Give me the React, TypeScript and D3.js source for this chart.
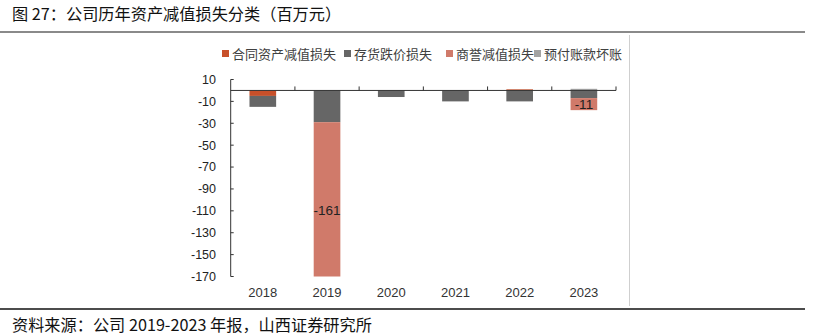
import React from "react";
import * as d3 from "d3";

const years = ["2018", "2019", "2020", "2021", "2022", "2023"];
const contractAsset = [-5, 0, 0, 0, 1, 0];
const inventory = [-10, -29, -6, -10, -10, -7];
const goodwill = [0, -161, 0, 0, 0, -11];
const prepaid = [0, 0, 0, 0, 0, 1.5];
const seriesNames = ["合同资产减值损失", "存货跌价损失", "商誉减值损失", "预付账款坏账"];
const seriesColors = ["#c8502a", "#666666", "#d07a6a", "#a3a3a3"];
const yTicks = [10, -10, -30, -50, -70, -90, -110, -130, -150, -170];
const labelSeries = 2;

const W = 827;
const H = 336;

export default function App() {
  const keys = ["a", "b", "c", "d"];
  const table = years.map((y, i) => ({
    year: y,
    a: contractAsset[i],
    b: inventory[i],
    c: goodwill[i],
    d: prepaid[i],
  }));
  const stacked = d3
    .stack<any>()
    .keys(keys)
    .offset(d3.stackOffsetDiverging)(table);

  const x = d3.scaleBand().domain(years).range([230.7, 616]).paddingInner(0.585).paddingOuter(0.2925);
  const y = d3.scaleLinear().domain([-170, 10]).range([276.5, 79.5]);
  const band = (x.range()[1] - x.range()[0]) / years.length;
  const x0 = 230.7;
  const zero = y(0);

  const legendX = [222, 344, 446, 534];

  return (
    <div style={{ position: "absolute", left: 0, top: 0 }}>
      <svg width={W} height={H} style={{ display: "block", background: "#fff" }}>
        <defs>
          <clipPath id="plotclip">
            <rect x={x0} y={y(10)} width={400} height={y(-170) - y(10)} />
          </clipPath>
        </defs>
        <text x={12} y={20} fontFamily="'Noto Sans CJK SC', sans-serif" fontSize={16.2} fill="#111">
          图 27：公司历年资产减值损失分类（百万元）
        </text>
        <line x1={0} x2={805} y1={32} y2={32} stroke="#8a8a8a" strokeWidth={2} />
        <line x1={629.5} x2={629.5} y1={35} y2={306} stroke="#cfcfcf" strokeWidth={1} />
        <line x1={0} x2={805} y1={309} y2={309} stroke="#111" strokeWidth={1.5} />
        <text x={12} y={331} fontFamily="'Noto Sans CJK SC', sans-serif" fontSize={16.2} fill="#111">
          资料来源：公司 2019-2023 年报，山西证券研究所
        </text>

        {/* legend */}
        {seriesNames.map((n, i) => (
          <g key={n}>
            <rect x={legendX[i]} y={50} width={7} height={7} fill={seriesColors[i]} />
            <text x={legendX[i] + 10} y={58.5} fontFamily="'Noto Sans CJK SC', sans-serif" fontSize={13} fill="#404040">
              {n}
            </text>
          </g>
        ))}

        {/* bars */}
        <g clipPath="url(#plotclip)">
          {stacked.map((s, si) =>
            s.map((d, i) => {
              const top = y(Math.max(d[0], d[1]));
              const bot = y(Math.min(d[0], d[1]));
              if (bot - top <= 0) return null;
              return (
                <rect
                  key={si + "-" + i}
                  x={x(years[i])}
                  y={top}
                  width={x.bandwidth()}
                  height={bot - top}
                  fill={seriesColors[si]}
                />
              );
            })
          )}
        </g>

        {/* y axis */}
        <line x1={x0} x2={x0} y1={y(10)} y2={y(-170)} stroke="#333" strokeWidth={1} />
        {yTicks.map((t) => (
          <g key={t}>
            <line x1={x0} x2={x0 + 3} y1={y(t)} y2={y(t)} stroke="#333" strokeWidth={1} />
            <text
              x={216}
              y={y(t)}
              dy="0.35em"
              textAnchor="end"
              fontFamily="Arial, 'Liberation Sans', sans-serif"
              fontSize={12.5}
              fill="#222"
            >
              {t}
            </text>
          </g>
        ))}

        {/* x axis at zero */}
        <line x1={x0} x2={616} y1={zero} y2={zero} stroke="#333" strokeWidth={1} />
        {years.map((yr, i) => (
          <g key={yr}>
            <line x1={x0 + band * (i + 1)} x2={x0 + band * (i + 1)} y1={zero} y2={zero - 4} stroke="#333" strokeWidth={1} />
            <text
              x={(x(yr) as number) + x.bandwidth() / 2}
              y={292}
              dy="0.35em"
              textAnchor="middle"
              fontFamily="Arial, 'Liberation Sans', sans-serif"
              fontSize={13}
              fill="#333"
            >
              {yr}
            </text>
          </g>
        ))}

        {/* data labels for goodwill */}
        {stacked[labelSeries].map((d, i) => {
          if (goodwill[i] === 0) return null;
          const cy = (y(d[0]) + y(d[1])) / 2;
          return (
            <text
              key={"l" + i}
              x={(x(years[i]) as number) + x.bandwidth() / 2}
              y={cy}
              dy="0.35em"
              textAnchor="middle"
              fontFamily="Arial, 'Liberation Sans', sans-serif"
              fontSize={13.5}
              fill="#222"
            >
              {goodwill[i]}
            </text>
          );
        })}
      </svg>
    </div>
  );
}
